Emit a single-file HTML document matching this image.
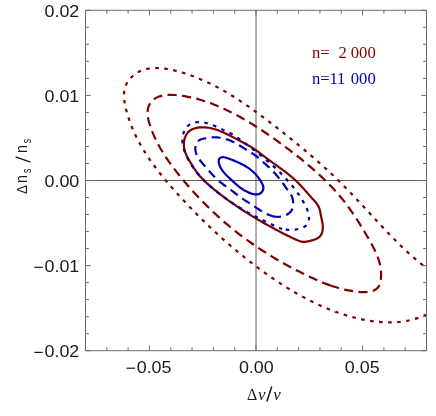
<!DOCTYPE html>
<html><head><meta charset="utf-8"><title>plot</title>
<style>html,body{margin:0;padding:0;background:#fff;}body{width:436px;height:416px;position:relative;overflow:hidden;font-family:"Liberation Sans",sans-serif;}</style></head>
<body>
<svg width="436" height="416" viewBox="0 0 436 416" style="position:absolute;left:0;top:0;will-change:transform">
<rect width="436" height="416" fill="#fff"/>
<line x1="85.5" y1="180.5" x2="426.5" y2="180.5" stroke="#606060" stroke-width="1"/>
<line x1="256.0" y1="10.3" x2="256.0" y2="350.7" stroke="#606060" stroke-width="1"/>
<clipPath id="c"><rect x="85.5" y="10.3" width="341.0" height="340.4"/></clipPath>
<g clip-path="url(#c)" fill="none" stroke-width="2.2" stroke-linejoin="round">
<path d="M428.74,269.81C428.21,269.40 426.61,268.20 425.55,267.39C424.50,266.57 423.45,265.74 422.40,264.91C421.36,264.08 420.32,263.24 419.29,262.39C418.26,261.54 417.24,260.68 416.22,259.82C415.20,258.95 414.19,258.08 413.19,257.20C412.18,256.32 411.19,255.43 410.19,254.54C409.20,253.65 408.21,252.75 407.23,251.85C406.25,250.94 405.27,250.03 404.30,249.11C403.33,248.20 402.36,247.28 401.40,246.35C400.44,245.42 399.48,244.49 398.53,243.56C397.58,242.62 396.63,241.68 395.69,240.74C394.74,239.79 393.81,238.84 392.87,237.89C391.93,236.94 391.00,235.98 390.07,235.02C389.14,234.07 388.22,233.10 387.29,232.14C386.37,231.17 385.45,230.21 384.53,229.24C383.61,228.27 382.70,227.30 381.79,226.32C380.87,225.35 379.96,224.37 379.05,223.40C378.14,222.42 377.23,221.44 376.32,220.46C375.42,219.48 374.51,218.50 373.61,217.52C372.70,216.54 371.80,215.56 370.89,214.57C369.99,213.59 369.08,212.61 368.18,211.63C367.27,210.65 366.37,209.67 365.46,208.68C364.56,207.70 363.65,206.72 362.74,205.74C361.83,204.76 360.93,203.79 360.02,202.81C359.11,201.83 358.19,200.86 357.28,199.88C356.37,198.91 355.45,197.94 354.53,196.97C353.61,196.00 352.69,195.03 351.77,194.07C350.85,193.10 349.92,192.14 348.99,191.18C348.06,190.22 347.13,189.27 346.19,188.32C345.26,187.36 344.32,186.42 343.38,185.47C342.43,184.53 341.48,183.59 340.53,182.65C339.58,181.71 338.63,180.78 337.67,179.85C336.71,178.92 335.75,177.99 334.79,177.07C333.82,176.15 332.85,175.23 331.88,174.31C330.91,173.39 329.93,172.48 328.96,171.57C327.98,170.66 327.00,169.76 326.01,168.86C325.03,167.95 324.04,167.05 323.05,166.16C322.06,165.26 321.07,164.37 320.08,163.48C319.08,162.59 318.08,161.70 317.08,160.82C316.08,159.94 315.08,159.06 314.07,158.18C313.06,157.30 312.05,156.43 311.04,155.55C310.03,154.68 309.02,153.81 308.00,152.95C306.99,152.08 305.97,151.22 304.95,150.36C303.93,149.50 302.90,148.64 301.88,147.79C300.85,146.93 299.82,146.08 298.79,145.23C297.76,144.38 296.73,143.53 295.70,142.69C294.66,141.84 293.63,141.00 292.59,140.16C291.55,139.32 290.51,138.48 289.47,137.65C288.43,136.81 287.39,135.98 286.34,135.15C285.30,134.32 284.25,133.49 283.20,132.66C282.15,131.83 281.10,131.01 280.05,130.19C279.00,129.37 277.94,128.55 276.89,127.73C275.83,126.91 274.78,126.09 273.72,125.28C272.66,124.46 271.60,123.65 270.54,122.84C269.48,122.03 268.42,121.22 267.36,120.41C266.29,119.61 265.23,118.80 264.16,118.00C263.09,117.20 262.02,116.40 260.95,115.60C259.88,114.80 258.81,114.01 257.73,113.22C256.66,112.43 255.58,111.64 254.50,110.86C253.42,110.07 252.33,109.29 251.24,108.52C250.16,107.75 249.07,106.98 247.97,106.21C246.88,105.45 245.78,104.69 244.68,103.93C243.57,103.18 242.47,102.43 241.36,101.69C240.25,100.95 239.13,100.21 238.02,99.48C236.90,98.75 235.77,98.03 234.65,97.32C233.52,96.60 232.39,95.89 231.25,95.20C230.11,94.50 228.97,93.80 227.82,93.12C226.68,92.44 225.52,91.76 224.37,91.10C223.21,90.43 222.04,89.78 220.88,89.13C219.71,88.49 218.53,87.85 217.36,87.22C216.18,86.60 214.99,85.98 213.80,85.37C212.61,84.77 211.42,84.17 210.22,83.59C209.02,83.01 207.81,82.43 206.60,81.87C205.38,81.31 204.17,80.77 202.94,80.23C201.72,79.69 200.49,79.17 199.26,78.66C198.03,78.15 196.79,77.65 195.54,77.16C194.30,76.68 193.05,76.21 191.80,75.75C190.54,75.29 189.28,74.85 188.02,74.42C186.76,73.99 185.49,73.57 184.21,73.17C182.94,72.76 181.66,72.37 180.38,72.00C179.10,71.63 177.81,71.27 176.52,70.94C175.23,70.60 173.93,70.28 172.63,69.99C171.33,69.70 170.02,69.43 168.70,69.20C167.39,68.96 166.07,68.75 164.75,68.58C163.42,68.40 162.09,68.26 160.76,68.16C159.43,68.07 158.10,68.01 156.76,68.00C155.43,68.00 154.09,68.03 152.76,68.13C151.43,68.23 150.10,68.39 148.78,68.61C147.47,68.84 146.16,69.12 144.88,69.48C143.60,69.85 142.32,70.28 141.09,70.79C139.87,71.31 138.66,71.90 137.50,72.56C136.35,73.23 135.23,73.97 134.17,74.78C133.11,75.59 132.10,76.47 131.16,77.42C130.23,78.37 129.34,79.39 128.57,80.46C127.79,81.54 127.08,82.70 126.50,83.89C125.91,85.08 125.42,86.34 125.05,87.62C124.67,88.89 124.40,90.21 124.22,91.53C124.05,92.85 123.99,94.19 123.98,95.53C123.98,96.86 124.08,98.20 124.21,99.52C124.34,100.85 124.55,102.17 124.78,103.49C125.01,104.80 125.30,106.11 125.59,107.41C125.89,108.71 126.23,110.00 126.57,111.29C126.92,112.58 127.28,113.87 127.67,115.14C128.06,116.42 128.46,117.70 128.88,118.96C129.31,120.23 129.75,121.49 130.21,122.74C130.67,123.99 131.15,125.24 131.65,126.48C132.14,127.72 132.66,128.95 133.19,130.18C133.72,131.40 134.27,132.62 134.83,133.83C135.39,135.04 135.97,136.24 136.57,137.44C137.16,138.63 137.77,139.82 138.40,141.00C139.02,142.18 139.66,143.35 140.31,144.52C140.97,145.68 141.63,146.84 142.31,147.99C142.99,149.14 143.68,150.28 144.39,151.42C145.09,152.55 145.81,153.68 146.53,154.80C147.26,155.92 148.00,157.03 148.75,158.13C149.50,159.24 150.26,160.34 151.02,161.43C151.79,162.52 152.57,163.61 153.36,164.69C154.15,165.76 154.94,166.84 155.75,167.90C156.55,168.97 157.36,170.03 158.18,171.08C159.00,172.13 159.83,173.18 160.66,174.22C161.50,175.27 162.34,176.30 163.19,177.34C164.03,178.37 164.89,179.39 165.75,180.42C166.61,181.44 167.47,182.46 168.34,183.47C169.21,184.48 170.08,185.49 170.96,186.50C171.84,187.50 172.72,188.50 173.61,189.50C174.50,190.50 175.39,191.49 176.28,192.48C177.18,193.48 178.08,194.46 178.98,195.45C179.88,196.44 180.78,197.42 181.68,198.40C182.59,199.38 183.50,200.36 184.41,201.33C185.32,202.31 186.24,203.28 187.16,204.25C188.07,205.22 189.00,206.19 189.92,207.15C190.84,208.11 191.77,209.08 192.70,210.03C193.63,210.99 194.56,211.95 195.50,212.90C196.44,213.85 197.38,214.80 198.32,215.74C199.26,216.69 200.21,217.63 201.16,218.57C202.10,219.51 203.06,220.45 204.01,221.38C204.97,222.31 205.92,223.24 206.89,224.17C207.85,225.10 208.81,226.02 209.78,226.94C210.75,227.86 211.72,228.78 212.69,229.69C213.67,230.60 214.64,231.51 215.62,232.42C216.60,233.32 217.59,234.23 218.57,235.13C219.56,236.03 220.55,236.92 221.54,237.81C222.54,238.71 223.53,239.59 224.53,240.48C225.53,241.36 226.54,242.25 227.54,243.12C228.55,244.00 229.56,244.88 230.57,245.75C231.58,246.62 232.60,247.48 233.62,248.34C234.64,249.21 235.66,250.07 236.69,250.92C237.71,251.78 238.74,252.63 239.77,253.47C240.80,254.32 241.84,255.16 242.88,256.00C243.92,256.84 244.96,257.68 246.00,258.51C247.05,259.34 248.10,260.17 249.15,260.99C250.20,261.81 251.25,262.63 252.31,263.45C253.37,264.26 254.43,265.07 255.49,265.88C256.56,266.68 257.63,267.49 258.70,268.28C259.77,269.08 260.84,269.87 261.92,270.66C263.00,271.45 264.08,272.24 265.16,273.02C266.24,273.80 267.33,274.57 268.42,275.34C269.51,276.11 270.61,276.87 271.71,277.63C272.80,278.39 273.91,279.15 275.01,279.89C276.12,280.64 277.23,281.39 278.34,282.12C279.45,282.86 280.57,283.59 281.69,284.31C282.81,285.04 283.94,285.76 285.07,286.47C286.20,287.18 287.33,287.89 288.47,288.58C289.61,289.28 290.75,289.97 291.90,290.66C293.04,291.34 294.19,292.02 295.35,292.69C296.50,293.36 297.66,294.02 298.83,294.68C299.99,295.33 301.16,295.98 302.33,296.61C303.51,297.25 304.68,297.88 305.86,298.50C307.05,299.13 308.23,299.74 309.42,300.34C310.61,300.95 311.81,301.54 313.01,302.13C314.21,302.71 315.41,303.29 316.62,303.86C317.83,304.42 319.04,304.98 320.26,305.53C321.48,306.07 322.70,306.61 323.93,307.14C325.16,307.66 326.39,308.18 327.62,308.68C328.86,309.19 330.10,309.68 331.35,310.16C332.59,310.65 333.84,311.12 335.09,311.58C336.35,312.04 337.60,312.49 338.87,312.92C340.13,313.36 341.39,313.78 342.67,314.19C343.94,314.60 345.21,315.00 346.49,315.39C347.77,315.77 349.05,316.15 350.33,316.51C351.62,316.87 352.91,317.21 354.20,317.55C355.49,317.88 356.79,318.20 358.09,318.50C359.39,318.81 360.69,319.10 362.00,319.37C363.31,319.65 364.62,319.91 365.93,320.15C367.24,320.39 368.56,320.61 369.88,320.82C371.20,321.03 372.52,321.22 373.84,321.38C375.17,321.55 376.50,321.70 377.82,321.83C379.15,321.96 380.48,322.06 381.82,322.15C383.15,322.23 384.48,322.30 385.82,322.34C387.15,322.38 388.49,322.39 389.82,322.38C391.16,322.37 392.49,322.34 393.83,322.28C395.16,322.22 396.49,322.13 397.82,322.02C399.15,321.90 400.48,321.76 401.81,321.59C403.13,321.42 404.45,321.22 405.77,320.99C407.08,320.77 408.39,320.51 409.70,320.22C411.00,319.93 412.30,319.61 413.59,319.27C414.87,318.92 416.16,318.54 417.43,318.13C418.70,317.72 419.96,317.28 421.21,316.81C422.45,316.33 423.69,315.83 424.92,315.30C426.14,314.77 427.95,313.90 428.55,313.62" stroke="#800000" stroke-dasharray="3.6 5.462" stroke-dashoffset="1.93"/>
<path d="M330.61,285.50C331.88,285.94 333.15,286.37 334.43,286.78C335.71,287.19 336.99,287.58 338.28,287.95C339.57,288.31 340.87,288.66 342.17,288.99C343.47,289.32 344.77,289.62 346.09,289.90C347.40,290.18 348.71,290.44 350.04,290.67C351.36,290.90 352.68,291.11 354.01,291.29C355.34,291.47 356.67,291.63 358.01,291.76C359.34,291.88 360.68,292.00 362.02,292.05C363.36,292.10 364.71,292.14 366.04,292.08C367.38,292.02 368.74,291.93 370.04,291.67C371.35,291.41 372.70,291.10 373.90,290.54C375.10,289.99 376.31,289.26 377.24,288.34C378.17,287.42 378.93,286.22 379.48,285.03C380.04,283.83 380.31,282.47 380.57,281.16C380.83,279.85 380.93,278.50 381.02,277.17C381.10,275.83 381.11,274.48 381.07,273.14C381.02,271.80 380.92,270.46 380.76,269.13C380.60,267.80 380.38,266.47 380.10,265.16C379.83,263.85 379.50,262.55 379.13,261.26C378.76,259.97 378.33,258.70 377.87,257.44C377.42,256.18 376.91,254.93 376.38,253.70C375.86,252.47 375.29,251.25 374.70,250.04C374.12,248.84 373.50,247.64 372.88,246.46C372.25,245.27 371.61,244.09 370.95,242.92C370.30,241.75 369.63,240.59 368.96,239.42C368.30,238.26 367.62,237.10 366.95,235.94C366.27,234.78 365.59,233.63 364.91,232.47C364.23,231.32 363.54,230.17 362.85,229.02C362.15,227.87 361.46,226.72 360.75,225.58C360.05,224.44 359.34,223.30 358.62,222.16C357.91,221.03 357.19,219.90 356.46,218.77C355.73,217.65 354.99,216.53 354.24,215.41C353.50,214.30 352.75,213.19 351.98,212.08C351.22,210.98 350.45,209.88 349.67,208.79C348.89,207.70 348.10,206.62 347.30,205.54C346.49,204.46 345.68,203.40 344.86,202.34C344.04,201.28 343.20,200.23 342.36,199.18C341.51,198.14 340.66,197.11 339.79,196.08C338.93,195.06 338.05,194.04 337.17,193.03C336.29,192.02 335.39,191.02 334.49,190.03C333.59,189.04 332.67,188.05 331.75,187.08C330.83,186.10 329.91,185.13 328.97,184.17C328.03,183.21 327.09,182.26 326.14,181.32C325.19,180.37 324.23,179.43 323.26,178.50C322.29,177.57 321.32,176.65 320.34,175.73C319.36,174.81 318.38,173.91 317.38,173.00C316.39,172.10 315.39,171.20 314.39,170.31C313.39,169.42 312.38,168.54 311.36,167.66C310.35,166.78 309.33,165.91 308.30,165.05C307.28,164.18 306.25,163.32 305.22,162.46C304.18,161.61 303.15,160.76 302.10,159.91C301.06,159.07 300.02,158.23 298.97,157.39C297.92,156.56 296.86,155.73 295.81,154.90C294.75,154.07 293.69,153.25 292.63,152.43C291.57,151.61 290.50,150.80 289.43,149.99C288.36,149.18 287.29,148.37 286.22,147.57C285.15,146.76 284.07,145.96 282.99,145.16C281.91,144.36 280.83,143.57 279.75,142.78C278.67,141.99 277.58,141.20 276.49,140.42C275.40,139.63 274.31,138.85 273.22,138.08C272.12,137.30 271.02,136.53 269.92,135.77C268.82,135.00 267.72,134.24 266.61,133.48C265.50,132.73 264.39,131.98 263.27,131.23C262.16,130.49 261.04,129.75 259.91,129.01C258.79,128.28 257.66,127.55 256.53,126.83C255.40,126.11 254.26,125.40 253.12,124.69C251.98,123.98 250.84,123.28 249.69,122.59C248.54,121.90 247.39,121.21 246.23,120.53C245.08,119.85 243.91,119.18 242.75,118.52C241.58,117.86 240.41,117.21 239.23,116.56C238.06,115.92 236.87,115.28 235.69,114.66C234.50,114.03 233.31,113.41 232.12,112.80C230.92,112.20 229.72,111.60 228.51,111.01C227.31,110.42 226.10,109.85 224.88,109.28C223.66,108.71 222.44,108.16 221.22,107.62C219.99,107.07 218.76,106.54 217.52,106.02C216.29,105.50 215.05,104.99 213.80,104.49C212.55,104.00 211.30,103.51 210.04,103.05C208.78,102.58 207.52,102.13 206.25,101.69C204.98,101.26 203.71,100.84 202.43,100.44C201.15,100.04 199.86,99.65 198.57,99.29C197.28,98.92 195.99,98.57 194.69,98.25C193.38,97.92 192.08,97.62 190.77,97.33C189.46,97.05 188.14,96.79 186.82,96.55C185.50,96.31 184.18,96.09 182.85,95.90C181.52,95.70 180.19,95.53 178.86,95.39C177.52,95.24 176.19,95.11 174.85,95.02C173.51,94.93 172.17,94.86 170.83,94.85C169.49,94.83 168.14,94.85 166.81,94.96C165.47,95.06 164.13,95.21 162.82,95.47C161.51,95.74 160.19,96.07 158.95,96.54C157.70,97.02 156.46,97.60 155.34,98.32C154.22,99.04 153.16,99.90 152.23,100.85C151.30,101.81 150.45,102.89 149.78,104.04C149.11,105.18 148.56,106.45 148.19,107.72C147.83,109.00 147.65,110.36 147.57,111.69C147.49,113.02 147.58,114.38 147.72,115.71C147.85,117.04 148.11,118.36 148.39,119.67C148.67,120.98 149.03,122.28 149.41,123.56C149.79,124.85 150.21,126.13 150.65,127.39C151.09,128.66 151.55,129.92 152.04,131.17C152.53,132.42 153.05,133.66 153.58,134.89C154.12,136.12 154.68,137.34 155.25,138.55C155.83,139.76 156.43,140.96 157.05,142.15C157.66,143.34 158.30,144.52 158.95,145.70C159.60,146.87 160.26,148.04 160.94,149.19C161.62,150.35 162.31,151.50 163.02,152.64C163.72,153.78 164.44,154.91 165.17,156.04C165.90,157.16 166.64,158.28 167.40,159.39C168.15,160.50 168.92,161.60 169.69,162.70C170.46,163.79 171.25,164.88 172.04,165.96C172.84,167.04 173.64,168.12 174.45,169.18C175.27,170.25 176.09,171.31 176.91,172.37C177.74,173.43 178.58,174.48 179.42,175.52C180.26,176.56 181.11,177.60 181.96,178.64C182.82,179.67 183.68,180.70 184.54,181.73C185.41,182.75 186.28,183.77 187.16,184.79C188.03,185.80 188.92,186.81 189.80,187.82C190.69,188.82 191.58,189.82 192.48,190.82C193.38,191.82 194.29,192.81 195.19,193.79C196.10,194.78 197.02,195.76 197.94,196.74C198.86,197.71 199.78,198.68 200.71,199.65C201.65,200.62 202.58,201.58 203.52,202.53C204.46,203.49 205.41,204.44 206.36,205.38C207.31,206.33 208.27,207.27 209.23,208.20C210.20,209.14 211.16,210.07 212.14,210.99C213.11,211.91 214.09,212.83 215.07,213.74C216.05,214.66 217.04,215.56 218.04,216.47C219.03,217.37 220.03,218.26 221.03,219.15C222.04,220.04 223.05,220.93 224.06,221.80C225.07,222.68 226.09,223.55 227.12,224.42C228.14,225.29 229.17,226.15 230.21,227.00C231.24,227.86 232.28,228.70 233.32,229.55C234.37,230.39 235.42,231.22 236.47,232.05C237.52,232.88 238.58,233.71 239.65,234.52C240.71,235.34 241.78,236.15 242.85,236.96C243.93,237.76 245.01,238.56 246.09,239.35C247.17,240.14 248.26,240.93 249.35,241.71C250.44,242.48 251.54,243.26 252.64,244.02C253.74,244.79 254.85,245.55 255.96,246.30C257.07,247.06 258.18,247.80 259.30,248.54C260.42,249.28 261.54,250.02 262.67,250.75C263.79,251.48 264.92,252.20 266.06,252.91C267.19,253.63 268.33,254.34 269.47,255.05C270.61,255.75 271.76,256.45 272.91,257.14C274.06,257.83 275.21,258.52 276.37,259.20C277.52,259.88 278.68,260.55 279.85,261.22C281.01,261.88 282.18,262.55 283.35,263.20C284.52,263.86 285.69,264.51 286.87,265.15C288.05,265.80 289.23,266.43 290.41,267.07C291.59,267.70 292.78,268.33 293.97,268.95C295.16,269.57 296.35,270.18 297.54,270.79C298.74,271.40 299.94,272.01 301.14,272.60C302.34,273.20 303.54,273.79 304.75,274.38C305.95,274.97 307.16,275.55 308.37,276.12C309.59,276.70 310.80,277.27 312.02,277.83C313.24,278.39 314.46,278.95 315.68,279.50C316.91,280.04 318.14,280.58 319.37,281.11C320.60,281.63 321.84,282.15 323.09,282.65C324.33,283.16 325.58,283.65 326.83,284.12C328.09,284.60 329.35,285.06 330.61,285.50Z" stroke="#800000" stroke-dasharray="9.16 5.368" stroke-dashoffset="0.47"/>
<path d="M202.55,127.29C203.05,127.29 203.55,127.30 204.05,127.32C204.55,127.34 205.05,127.37 205.55,127.41C206.05,127.45 206.55,127.50 207.05,127.56C207.55,127.61 208.05,127.68 208.54,127.76C209.04,127.84 209.53,127.93 210.03,128.02C210.52,128.12 211.01,128.22 211.50,128.33C211.99,128.44 212.47,128.56 212.96,128.69C213.44,128.82 213.93,128.95 214.41,129.09C214.89,129.24 215.37,129.38 215.85,129.54C216.32,129.69 216.80,129.85 217.27,130.02C217.75,130.19 218.22,130.36 218.69,130.54C219.16,130.71 219.62,130.90 220.09,131.08C220.55,131.27 221.02,131.46 221.48,131.66C221.94,131.85 222.40,132.05 222.86,132.26C223.32,132.46 223.78,132.67 224.23,132.88C224.69,133.09 225.14,133.30 225.60,133.51C226.05,133.73 226.50,133.95 226.95,134.17C227.40,134.39 227.85,134.61 228.30,134.83C228.75,135.06 229.20,135.28 229.65,135.51C230.09,135.74 230.54,135.97 230.99,136.19C231.43,136.42 231.88,136.65 232.33,136.88C232.77,137.11 233.22,137.34 233.66,137.57C234.11,137.80 234.55,138.03 235.00,138.26C235.45,138.49 235.89,138.72 236.34,138.95C236.78,139.18 237.23,139.41 237.67,139.65C238.12,139.88 238.56,140.11 239.01,140.34C239.45,140.57 239.90,140.80 240.34,141.04C240.79,141.27 241.23,141.51 241.67,141.74C242.12,141.98 242.56,142.21 243.00,142.45C243.44,142.69 243.88,142.93 244.32,143.17C244.76,143.41 245.20,143.65 245.64,143.90C246.08,144.14 246.52,144.38 246.95,144.63C247.39,144.88 247.83,145.13 248.26,145.38C248.69,145.63 249.13,145.89 249.56,146.14C249.99,146.40 250.42,146.66 250.85,146.92C251.27,147.18 251.70,147.45 252.13,147.71C252.55,147.98 252.97,148.25 253.40,148.52C253.82,148.79 254.24,149.07 254.65,149.35C255.07,149.63 255.49,149.91 255.90,150.19C256.31,150.48 256.72,150.77 257.13,151.06C257.54,151.35 257.94,151.65 258.35,151.94C258.75,152.24 259.15,152.54 259.56,152.84C259.96,153.14 260.36,153.45 260.75,153.75C261.15,154.05 261.55,154.36 261.95,154.67C262.35,154.97 262.74,155.28 263.14,155.59C263.54,155.89 263.93,156.20 264.33,156.51C264.73,156.81 265.13,157.12 265.52,157.42C265.92,157.73 266.32,158.03 266.72,158.33C267.12,158.64 267.53,158.94 267.93,159.24C268.33,159.54 268.73,159.83 269.14,160.13C269.54,160.43 269.95,160.72 270.35,161.02C270.76,161.31 271.17,161.61 271.57,161.90C271.98,162.19 272.39,162.49 272.80,162.78C273.20,163.07 273.61,163.36 274.02,163.65C274.43,163.95 274.84,164.24 275.25,164.53C275.65,164.82 276.06,165.11 276.47,165.40C276.88,165.69 277.29,165.98 277.70,166.27C278.11,166.56 278.52,166.86 278.92,167.15C279.33,167.44 279.74,167.73 280.15,168.03C280.55,168.32 280.96,168.61 281.37,168.91C281.77,169.20 282.18,169.50 282.58,169.79C282.99,170.09 283.39,170.39 283.79,170.69C284.20,170.99 284.60,171.29 285.00,171.59C285.40,171.89 285.80,172.19 286.20,172.50C286.60,172.80 286.99,173.11 287.39,173.42C287.79,173.73 288.18,174.04 288.57,174.35C288.97,174.66 289.36,174.97 289.75,175.29C290.13,175.61 290.52,175.93 290.91,176.25C291.29,176.57 291.68,176.89 292.06,177.22C292.44,177.54 292.82,177.87 293.20,178.20C293.57,178.53 293.95,178.87 294.32,179.21C294.69,179.54 295.06,179.88 295.43,180.23C295.79,180.57 296.16,180.91 296.52,181.26C296.88,181.61 297.24,181.96 297.59,182.32C297.95,182.67 298.30,183.03 298.65,183.38C299.00,183.74 299.35,184.10 299.70,184.46C300.05,184.83 300.39,185.19 300.74,185.56C301.08,185.92 301.42,186.29 301.76,186.66C302.10,187.03 302.44,187.40 302.78,187.77C303.12,188.14 303.45,188.51 303.79,188.88C304.12,189.26 304.46,189.63 304.79,190.00C305.13,190.38 305.46,190.75 305.79,191.13C306.12,191.51 306.46,191.88 306.79,192.26C307.12,192.63 307.45,193.01 307.78,193.39C308.12,193.76 308.45,194.14 308.78,194.51C309.11,194.89 309.44,195.27 309.78,195.64C310.11,196.02 310.44,196.39 310.78,196.77C311.11,197.14 311.45,197.51 311.78,197.89C312.12,198.26 312.46,198.63 312.79,199.00C313.13,199.37 313.47,199.75 313.80,200.12C314.13,200.50 314.46,200.87 314.79,201.26C315.11,201.64 315.44,202.02 315.75,202.41C316.06,202.81 316.37,203.20 316.66,203.61C316.96,204.01 317.25,204.43 317.52,204.85C317.79,205.27 318.05,205.70 318.29,206.14C318.53,206.58 318.76,207.03 318.96,207.49C319.16,207.95 319.34,208.42 319.50,208.89C319.66,209.37 319.79,209.85 319.92,210.34C320.04,210.82 320.14,211.32 320.24,211.81C320.34,212.30 320.43,212.79 320.52,213.29C320.61,213.78 320.69,214.28 320.78,214.77C320.87,215.26 320.96,215.76 321.06,216.25C321.16,216.74 321.26,217.23 321.36,217.72C321.47,218.21 321.58,218.70 321.68,219.19C321.79,219.68 321.90,220.17 322.00,220.66C322.10,221.16 322.20,221.65 322.29,222.14C322.37,222.63 322.46,223.13 322.53,223.63C322.60,224.12 322.67,224.62 322.72,225.12C322.77,225.62 322.80,226.12 322.82,226.62C322.84,227.12 322.84,227.62 322.82,228.13C322.80,228.63 322.77,229.13 322.70,229.63C322.64,230.12 322.56,230.62 322.45,231.11C322.34,231.60 322.21,232.08 322.05,232.56C321.89,233.03 321.70,233.50 321.49,233.96C321.28,234.41 321.03,234.85 320.76,235.27C320.49,235.69 320.18,236.09 319.85,236.46C319.51,236.83 319.14,237.18 318.75,237.49C318.35,237.80 317.92,238.07 317.49,238.31C317.05,238.56 316.59,238.77 316.13,238.97C315.67,239.17 315.20,239.34 314.73,239.50C314.26,239.67 313.78,239.82 313.30,239.96C312.82,240.11 312.33,240.25 311.85,240.38C311.36,240.51 310.88,240.63 310.39,240.75C309.90,240.87 309.41,240.98 308.92,241.08C308.43,241.19 307.94,241.30 307.45,241.39C306.96,241.49 306.46,241.59 305.97,241.67C305.47,241.74 304.97,241.81 304.47,241.84C303.98,241.87 303.47,241.87 302.97,241.84C302.47,241.80 301.97,241.73 301.48,241.63C300.99,241.54 300.50,241.41 300.02,241.27C299.54,241.13 299.07,240.96 298.60,240.78C298.13,240.61 297.66,240.41 297.20,240.22C296.74,240.02 296.29,239.81 295.83,239.60C295.37,239.39 294.92,239.17 294.47,238.96C294.01,238.75 293.56,238.53 293.11,238.32C292.65,238.10 292.20,237.88 291.75,237.67C291.30,237.45 290.85,237.23 290.39,237.01C289.94,236.79 289.49,236.57 289.04,236.35C288.59,236.13 288.14,235.91 287.69,235.68C287.24,235.46 286.79,235.24 286.34,235.01C285.90,234.79 285.45,234.56 285.00,234.34C284.55,234.11 284.10,233.89 283.66,233.66C283.21,233.43 282.76,233.20 282.32,232.97C281.87,232.74 281.42,232.51 280.98,232.28C280.53,232.05 280.09,231.82 279.64,231.59C279.20,231.36 278.75,231.12 278.31,230.89C277.87,230.66 277.42,230.42 276.98,230.19C276.54,229.95 276.09,229.72 275.65,229.48C275.21,229.24 274.77,229.01 274.33,228.77C273.88,228.53 273.44,228.29 273.00,228.05C272.56,227.81 272.12,227.57 271.68,227.33C271.24,227.09 270.80,226.85 270.36,226.61C269.92,226.37 269.48,226.13 269.04,225.88C268.60,225.64 268.16,225.40 267.73,225.15C267.29,224.91 266.85,224.66 266.41,224.42C265.98,224.17 265.54,223.92 265.10,223.68C264.66,223.43 264.23,223.18 263.79,222.94C263.36,222.69 262.92,222.44 262.48,222.19C262.05,221.94 261.61,221.69 261.18,221.44C260.75,221.19 260.31,220.94 259.88,220.69C259.44,220.43 259.01,220.18 258.58,219.93C258.14,219.67 257.71,219.42 257.28,219.16C256.85,218.91 256.42,218.65 255.98,218.40C255.55,218.14 255.12,217.88 254.69,217.63C254.26,217.37 253.83,217.11 253.40,216.85C252.97,216.59 252.54,216.33 252.11,216.07C251.69,215.81 251.26,215.55 250.83,215.29C250.40,215.02 249.98,214.76 249.55,214.50C249.12,214.23 248.70,213.97 248.27,213.70C247.84,213.44 247.42,213.17 246.99,212.90C246.57,212.64 246.15,212.37 245.72,212.10C245.30,211.83 244.88,211.56 244.45,211.29C244.03,211.02 243.61,210.75 243.19,210.48C242.76,210.21 242.34,209.93 241.92,209.66C241.50,209.39 241.08,209.11 240.66,208.84C240.24,208.56 239.82,208.29 239.41,208.01C238.99,207.73 238.57,207.45 238.15,207.17C237.74,206.90 237.32,206.62 236.90,206.34C236.49,206.05 236.07,205.77 235.66,205.49C235.24,205.21 234.83,204.92 234.42,204.64C234.00,204.36 233.59,204.07 233.18,203.79C232.77,203.50 232.35,203.21 231.94,202.92C231.53,202.64 231.12,202.35 230.71,202.06C230.30,201.77 229.89,201.48 229.49,201.18C229.08,200.89 228.67,200.60 228.26,200.31C227.86,200.01 227.45,199.72 227.05,199.42C226.64,199.13 226.24,198.83 225.83,198.53C225.43,198.24 225.02,197.94 224.62,197.64C224.22,197.34 223.82,197.04 223.42,196.74C223.02,196.43 222.62,196.13 222.22,195.83C221.82,195.53 221.42,195.22 221.02,194.92C220.62,194.61 220.23,194.30 219.83,194.00C219.43,193.69 219.04,193.38 218.64,193.07C218.25,192.76 217.85,192.45 217.46,192.14C217.07,191.83 216.67,191.51 216.28,191.20C215.89,190.89 215.50,190.57 215.11,190.26C214.72,189.94 214.33,189.62 213.94,189.30C213.56,188.99 213.17,188.67 212.78,188.35C212.40,188.03 212.01,187.71 211.63,187.38C211.24,187.06 210.86,186.74 210.48,186.41C210.09,186.09 209.71,185.76 209.33,185.43C208.96,185.10 208.58,184.77 208.20,184.44C207.83,184.11 207.45,183.77 207.08,183.44C206.71,183.10 206.34,182.76 205.97,182.42C205.60,182.08 205.24,181.73 204.88,181.39C204.52,181.04 204.16,180.69 203.80,180.34C203.44,179.98 203.09,179.63 202.74,179.27C202.39,178.91 202.04,178.55 201.70,178.18C201.36,177.81 201.02,177.45 200.68,177.07C200.35,176.70 200.01,176.32 199.69,175.94C199.36,175.56 199.04,175.18 198.72,174.79C198.40,174.40 198.09,174.01 197.78,173.61C197.47,173.22 197.17,172.82 196.87,172.41C196.58,172.01 196.29,171.60 196.00,171.19C195.71,170.77 195.43,170.36 195.16,169.94C194.88,169.52 194.61,169.10 194.34,168.68C194.06,168.26 193.80,167.83 193.53,167.41C193.26,166.98 192.99,166.56 192.73,166.13C192.46,165.71 192.19,165.29 191.92,164.86C191.66,164.44 191.39,164.01 191.12,163.59C190.85,163.16 190.59,162.74 190.32,162.31C190.06,161.89 189.80,161.46 189.54,161.03C189.28,160.60 189.02,160.17 188.77,159.73C188.52,159.30 188.27,158.86 188.03,158.42C187.79,157.98 187.55,157.54 187.32,157.09C187.09,156.65 186.87,156.20 186.66,155.74C186.44,155.29 186.24,154.83 186.04,154.37C185.85,153.91 185.66,153.44 185.49,152.97C185.31,152.50 185.15,152.03 185.00,151.55C184.85,151.07 184.71,150.59 184.59,150.10C184.47,149.61 184.36,149.12 184.26,148.63C184.17,148.14 184.09,147.64 184.03,147.14C183.97,146.65 183.92,146.15 183.89,145.65C183.86,145.15 183.85,144.64 183.86,144.14C183.86,143.64 183.88,143.14 183.93,142.64C183.97,142.14 184.03,141.64 184.10,141.14C184.18,140.65 184.28,140.16 184.39,139.67C184.51,139.18 184.64,138.69 184.79,138.22C184.94,137.74 185.11,137.26 185.29,136.80C185.48,136.33 185.69,135.87 185.92,135.43C186.14,134.98 186.39,134.54 186.66,134.12C186.93,133.70 187.22,133.29 187.54,132.90C187.86,132.51 188.20,132.14 188.56,131.79C188.92,131.45 189.31,131.12 189.71,130.82C190.10,130.52 190.52,130.24 190.95,129.98C191.38,129.72 191.83,129.49 192.28,129.28C192.74,129.06 193.20,128.87 193.67,128.70C194.14,128.53 194.62,128.37 195.10,128.24C195.59,128.10 196.08,127.98 196.57,127.88C197.06,127.77 197.55,127.69 198.05,127.61C198.54,127.54 199.04,127.48 199.54,127.43C200.04,127.38 200.54,127.35 201.04,127.33C201.54,127.30 202.05,127.29 202.55,127.29Z" stroke="#800000"/>
<path d="M282.17,228.91C281.68,228.78 281.20,228.65 280.72,228.50C280.24,228.35 279.76,228.19 279.29,228.02C278.82,227.85 278.36,227.66 277.89,227.47C277.43,227.28 276.97,227.07 276.52,226.86C276.06,226.65 275.61,226.43 275.16,226.20C274.71,225.98 274.27,225.75 273.82,225.52C273.37,225.30 272.93,225.06 272.48,224.83C272.04,224.60 271.59,224.37 271.14,224.15C270.69,223.92 270.24,223.70 269.79,223.48C269.34,223.26 268.89,223.04 268.44,222.82C267.99,222.61 267.53,222.39 267.08,222.18C266.63,221.96 266.17,221.75 265.72,221.53C265.27,221.32 264.81,221.11 264.36,220.89C263.90,220.68 263.45,220.46 263.00,220.25C262.55,220.03 262.09,219.81 261.64,219.59C261.19,219.37 260.74,219.15 260.29,218.93C259.84,218.71 259.39,218.49 258.94,218.26C258.49,218.04 258.05,217.81 257.60,217.59C257.15,217.36 256.70,217.13 256.26,216.90C255.81,216.67 255.37,216.44 254.92,216.21C254.48,215.98 254.03,215.75 253.59,215.51C253.14,215.28 252.70,215.04 252.26,214.80C251.82,214.57 251.38,214.33 250.93,214.09C250.49,213.85 250.05,213.61 249.61,213.37C249.17,213.13 248.74,212.88 248.30,212.64C247.86,212.39 247.42,212.15 246.99,211.90C246.55,211.65 246.11,211.40 245.68,211.15C245.24,210.90 244.81,210.65 244.38,210.40C243.94,210.15 243.51,209.89 243.08,209.64C242.65,209.38 242.21,209.13 241.78,208.87C241.35,208.61 240.92,208.35 240.49,208.09C240.07,207.83 239.64,207.57 239.21,207.31C238.78,207.05 238.36,206.78 237.93,206.52C237.51,206.25 237.08,205.98 236.66,205.72C236.23,205.45 235.81,205.18 235.39,204.91C234.96,204.64 234.54,204.36 234.12,204.09C233.70,203.82 233.28,203.54 232.86,203.27C232.44,202.99 232.03,202.71 231.61,202.44C231.19,202.16 230.77,201.88 230.36,201.60C229.94,201.31 229.53,201.03 229.12,200.75C228.70,200.46 228.29,200.18 227.88,199.89C227.47,199.61 227.05,199.32 226.64,199.03C226.23,198.74 225.82,198.45 225.42,198.16C225.01,197.87 224.60,197.57 224.19,197.28C223.79,196.99 223.38,196.69 222.98,196.39C222.57,196.10 222.17,195.80 221.77,195.50C221.37,195.20 220.96,194.90 220.56,194.60C220.16,194.29 219.76,193.99 219.36,193.69C218.97,193.38 218.57,193.08 218.17,192.77C217.78,192.46 217.38,192.15 216.99,191.84C216.59,191.53 216.20,191.22 215.81,190.90C215.42,190.59 215.03,190.28 214.64,189.96C214.25,189.64 213.86,189.32 213.48,189.00C213.09,188.68 212.71,188.36 212.32,188.03C211.94,187.71 211.56,187.38 211.18,187.06C210.80,186.73 210.42,186.40 210.05,186.07C209.67,185.73 209.29,185.40 208.92,185.06C208.55,184.73 208.18,184.39 207.81,184.05C207.44,183.71 207.07,183.37 206.71,183.02C206.34,182.68 205.98,182.33 205.62,181.99C205.26,181.64 204.90,181.29 204.54,180.93C204.19,180.58 203.83,180.22 203.48,179.87C203.13,179.51 202.78,179.15 202.43,178.79C202.09,178.42 201.74,178.06 201.40,177.69C201.06,177.32 200.72,176.96 200.38,176.58C200.05,176.21 199.71,175.84 199.38,175.46C199.05,175.08 198.72,174.70 198.40,174.32C198.07,173.94 197.75,173.55 197.43,173.17C197.11,172.78 196.80,172.39 196.48,172.00C196.17,171.61 195.86,171.21 195.56,170.81C195.25,170.42 194.95,170.02 194.65,169.61C194.35,169.21 194.05,168.80 193.76,168.40C193.47,167.99 193.18,167.58 192.90,167.16C192.61,166.75 192.33,166.34 192.05,165.92C191.78,165.50 191.50,165.08 191.23,164.66C190.96,164.23 190.70,163.81 190.44,163.38C190.18,162.95 189.92,162.52 189.67,162.08C189.42,161.65 189.17,161.21 188.92,160.78C188.68,160.34 188.44,159.90 188.21,159.45C187.97,159.01 187.74,158.56 187.51,158.12C187.29,157.67 187.07,157.22 186.85,156.77C186.63,156.31 186.42,155.86 186.22,155.40C186.01,154.94 185.81,154.48 185.61,154.02C185.42,153.56 185.23,153.10 185.04,152.63C184.86,152.16 184.69,151.69 184.52,151.22C184.35,150.75 184.19,150.27 184.03,149.79C183.88,149.32 183.73,148.84 183.60,148.35C183.46,147.87 183.34,147.38 183.22,146.90C183.10,146.41 183.00,145.92 182.90,145.43C182.81,144.93 182.72,144.44 182.65,143.94C182.58,143.45 182.52,142.95 182.47,142.45C182.43,141.95 182.40,141.45 182.38,140.95C182.36,140.44 182.36,139.94 182.37,139.44C182.38,138.94 182.41,138.44 182.46,137.94C182.50,137.44 182.56,136.94 182.64,136.45C182.72,135.95 182.82,135.46 182.93,134.97C183.04,134.48 183.18,133.99 183.33,133.52C183.47,133.04 183.64,132.56 183.83,132.10C184.01,131.63 184.21,131.17 184.43,130.72C184.65,130.27 184.88,129.82 185.14,129.39C185.39,128.96 185.66,128.53 185.95,128.13C186.24,127.72 186.55,127.32 186.88,126.94C187.20,126.56 187.55,126.20 187.92,125.86C188.29,125.52 188.67,125.19 189.08,124.90C189.49,124.61 189.91,124.34 190.35,124.10C190.79,123.86 191.25,123.64 191.71,123.45C192.18,123.26 192.65,123.10 193.13,122.95C193.61,122.81 194.10,122.69 194.59,122.59C195.08,122.48 195.58,122.40 196.07,122.33C196.57,122.26 197.07,122.21 197.57,122.18C198.07,122.14 198.57,122.12 199.07,122.12C199.58,122.11 200.08,122.12 200.58,122.14C201.08,122.17 201.58,122.21 202.08,122.26C202.58,122.31 203.08,122.37 203.57,122.45C204.07,122.53 204.56,122.62 205.05,122.72C205.54,122.82 206.03,122.93 206.52,123.05C207.01,123.17 207.49,123.31 207.97,123.45C208.45,123.59 208.93,123.74 209.41,123.90C209.88,124.05 210.36,124.22 210.83,124.39C211.30,124.56 211.77,124.74 212.24,124.93C212.70,125.11 213.17,125.30 213.63,125.49C214.09,125.68 214.56,125.88 215.01,126.08C215.47,126.29 215.93,126.49 216.39,126.70C216.85,126.90 217.30,127.11 217.76,127.33C218.21,127.54 218.67,127.75 219.12,127.96C219.57,128.18 220.03,128.39 220.48,128.61C220.94,128.82 221.39,129.03 221.84,129.25C222.30,129.46 222.75,129.67 223.21,129.88C223.66,130.09 224.12,130.30 224.58,130.51C225.03,130.71 225.49,130.92 225.95,131.13C226.40,131.34 226.86,131.55 227.31,131.76C227.77,131.97 228.22,132.19 228.67,132.41C229.12,132.63 229.57,132.85 230.02,133.08C230.46,133.31 230.91,133.55 231.34,133.79C231.78,134.04 232.22,134.29 232.65,134.55C233.08,134.80 233.50,135.07 233.93,135.34C234.35,135.60 234.77,135.88 235.19,136.16C235.61,136.43 236.02,136.72 236.43,137.00C236.85,137.29 237.26,137.58 237.67,137.87C238.08,138.15 238.49,138.45 238.89,138.74C239.30,139.03 239.71,139.33 240.11,139.62C240.52,139.92 240.93,140.21 241.33,140.51C241.74,140.80 242.14,141.10 242.55,141.39C242.95,141.69 243.36,141.98 243.76,142.28C244.16,142.58 244.57,142.88 244.97,143.18C245.38,143.47 245.78,143.77 246.18,144.07C246.58,144.37 246.99,144.67 247.39,144.97C247.79,145.27 248.19,145.57 248.59,145.87C248.99,146.18 249.39,146.48 249.79,146.78C250.19,147.09 250.59,147.39 250.99,147.69C251.39,148.00 251.79,148.30 252.19,148.61C252.58,148.91 252.98,149.22 253.38,149.53C253.77,149.83 254.17,150.14 254.57,150.45C254.96,150.76 255.36,151.07 255.75,151.38C256.15,151.69 256.54,152.00 256.93,152.31C257.33,152.62 257.72,152.93 258.11,153.25C258.50,153.56 258.89,153.87 259.29,154.19C259.68,154.50 260.07,154.82 260.46,155.13C260.85,155.45 261.23,155.77 261.62,156.09C262.01,156.40 262.40,156.72 262.78,157.04C263.17,157.36 263.56,157.68 263.94,158.00C264.33,158.33 264.71,158.65 265.10,158.97C265.48,159.29 265.86,159.62 266.24,159.94C266.63,160.27 267.01,160.59 267.39,160.92C267.77,161.25 268.15,161.58 268.53,161.91C268.91,162.23 269.28,162.56 269.66,162.90C270.04,163.23 270.41,163.56 270.79,163.89C271.16,164.22 271.54,164.56 271.91,164.89C272.29,165.23 272.66,165.56 273.03,165.90C273.40,166.24 273.77,166.58 274.14,166.92C274.51,167.25 274.88,167.59 275.25,167.94C275.62,168.28 275.98,168.62 276.35,168.96C276.71,169.31 277.08,169.65 277.44,170.00C277.80,170.34 278.17,170.69 278.53,171.04C278.89,171.39 279.25,171.74 279.61,172.09C279.96,172.44 280.32,172.79 280.68,173.15C281.03,173.50 281.39,173.86 281.74,174.21C282.09,174.57 282.44,174.93 282.79,175.29C283.14,175.65 283.49,176.01 283.84,176.37C284.19,176.73 284.53,177.09 284.88,177.46C285.22,177.83 285.56,178.19 285.90,178.56C286.24,178.93 286.58,179.30 286.92,179.67C287.26,180.04 287.59,180.41 287.93,180.79C288.26,181.16 288.59,181.54 288.92,181.92C289.25,182.30 289.58,182.67 289.91,183.06C290.23,183.44 290.56,183.82 290.88,184.20C291.20,184.59 291.52,184.98 291.84,185.36C292.16,185.75 292.47,186.14 292.79,186.53C293.10,186.92 293.41,187.32 293.72,187.71C294.03,188.11 294.34,188.50 294.64,188.90C294.95,189.30 295.25,189.70 295.55,190.10C295.85,190.50 296.15,190.91 296.45,191.31C296.74,191.72 297.04,192.13 297.33,192.53C297.62,192.94 297.90,193.35 298.19,193.77C298.48,194.18 298.76,194.59 299.04,195.01C299.32,195.43 299.60,195.84 299.87,196.26C300.15,196.68 300.42,197.10 300.69,197.53C300.96,197.95 301.22,198.38 301.49,198.80C301.75,199.23 302.01,199.66 302.27,200.09C302.53,200.52 302.79,200.95 303.04,201.38C303.29,201.82 303.54,202.25 303.79,202.69C304.03,203.12 304.28,203.56 304.52,204.00C304.76,204.44 304.99,204.89 305.22,205.33C305.45,205.78 305.68,206.23 305.89,206.68C306.11,207.13 306.32,207.59 306.52,208.05C306.73,208.51 306.92,208.97 307.11,209.43C307.29,209.90 307.47,210.37 307.63,210.84C307.80,211.32 307.95,211.80 308.09,212.28C308.23,212.76 308.36,213.25 308.47,213.74C308.58,214.22 308.68,214.72 308.75,215.21C308.83,215.71 308.89,216.21 308.94,216.71C308.98,217.21 309.00,217.71 309.00,218.21C309.00,218.71 308.99,219.21 308.94,219.71C308.90,220.21 308.84,220.71 308.75,221.20C308.65,221.70 308.53,222.19 308.36,222.66C308.18,223.12 307.96,223.59 307.69,224.00C307.41,224.41 307.06,224.79 306.70,225.13C306.33,225.47 305.91,225.76 305.50,226.03C305.08,226.31 304.63,226.54 304.19,226.77C303.74,227.00 303.28,227.21 302.82,227.41C302.36,227.61 301.90,227.80 301.43,227.97C300.96,228.15 300.48,228.31 300.00,228.46C299.52,228.61 299.04,228.75 298.56,228.87C298.07,229.00 297.58,229.11 297.09,229.22C296.60,229.32 296.11,229.41 295.61,229.49C295.11,229.57 294.62,229.64 294.12,229.69C293.62,229.75 293.12,229.79 292.62,229.83C292.12,229.86 291.62,229.89 291.12,229.90C290.62,229.91 290.11,229.91 289.61,229.90C289.11,229.89 288.61,229.87 288.11,229.84C287.61,229.80 287.11,229.76 286.61,229.71C286.11,229.65 285.61,229.59 285.12,229.51C284.62,229.43 284.13,229.34 283.64,229.24C283.14,229.14 282.65,229.03 282.17,228.91Z" stroke="#0000b0" stroke-dasharray="3.6 5.488" stroke-dashoffset="0.34"/>
<path d="M274.96,216.57C274.46,216.50 273.96,216.41 273.47,216.31C272.98,216.20 272.49,216.08 272.01,215.95C271.52,215.82 271.04,215.67 270.57,215.51C270.09,215.35 269.62,215.18 269.15,215.00C268.68,214.82 268.22,214.62 267.76,214.42C267.29,214.22 266.84,214.01 266.39,213.79C265.93,213.57 265.49,213.34 265.04,213.11C264.60,212.88 264.15,212.64 263.72,212.39C263.28,212.15 262.84,211.89 262.41,211.64C261.98,211.38 261.55,211.12 261.12,210.86C260.69,210.60 260.27,210.33 259.84,210.06C259.42,209.79 259.00,209.52 258.58,209.24C258.15,208.97 257.74,208.69 257.32,208.41C256.90,208.13 256.48,207.85 256.06,207.57C255.65,207.29 255.23,207.01 254.82,206.73C254.40,206.44 253.98,206.16 253.57,205.88C253.15,205.60 252.74,205.32 252.32,205.04C251.90,204.76 251.48,204.48 251.07,204.20C250.65,203.92 250.23,203.65 249.80,203.37C249.38,203.10 248.96,202.83 248.53,202.56C248.11,202.29 247.68,202.03 247.26,201.76C246.83,201.50 246.40,201.23 245.97,200.97C245.55,200.70 245.12,200.44 244.70,200.17C244.27,199.90 243.85,199.63 243.43,199.36C243.00,199.08 242.58,198.81 242.17,198.52C241.75,198.24 241.34,197.95 240.94,197.66C240.53,197.36 240.13,197.06 239.73,196.76C239.32,196.45 238.93,196.15 238.53,195.84C238.14,195.53 237.74,195.21 237.35,194.90C236.96,194.59 236.57,194.27 236.17,193.96C235.78,193.65 235.39,193.33 234.99,193.02C234.60,192.71 234.20,192.40 233.81,192.09C233.41,191.79 233.01,191.48 232.60,191.18C232.20,190.88 231.80,190.58 231.39,190.29C230.99,189.99 230.58,189.69 230.17,189.40C229.76,189.11 229.35,188.81 228.95,188.52C228.54,188.23 228.13,187.94 227.72,187.65C227.31,187.36 226.90,187.06 226.49,186.77C226.08,186.48 225.67,186.19 225.27,185.89C224.86,185.60 224.45,185.30 224.05,185.00C223.65,184.70 223.24,184.40 222.84,184.10C222.44,183.80 222.04,183.49 221.64,183.18C221.25,182.88 220.85,182.56 220.46,182.25C220.07,181.93 219.68,181.61 219.30,181.29C218.92,180.96 218.54,180.63 218.16,180.30C217.78,179.97 217.41,179.63 217.04,179.29C216.68,178.95 216.31,178.60 215.95,178.25C215.59,177.90 215.23,177.54 214.88,177.19C214.53,176.83 214.18,176.47 213.83,176.11C213.48,175.75 213.14,175.38 212.79,175.01C212.45,174.64 212.11,174.27 211.77,173.90C211.43,173.53 211.10,173.16 210.76,172.78C210.43,172.41 210.09,172.03 209.76,171.66C209.43,171.28 209.10,170.90 208.77,170.52C208.44,170.14 208.11,169.77 207.78,169.39C207.45,169.01 207.12,168.63 206.79,168.25C206.46,167.87 206.13,167.49 205.79,167.11C205.46,166.74 205.13,166.36 204.80,165.98C204.46,165.61 204.13,165.23 203.80,164.85C203.47,164.48 203.13,164.10 202.80,163.72C202.47,163.34 202.15,162.96 201.82,162.58C201.50,162.19 201.18,161.81 200.86,161.41C200.55,161.02 200.24,160.63 199.94,160.23C199.64,159.82 199.34,159.42 199.05,159.00C198.77,158.59 198.49,158.17 198.23,157.74C197.97,157.31 197.71,156.88 197.47,156.44C197.24,155.99 197.01,155.54 196.81,155.08C196.60,154.63 196.41,154.16 196.24,153.69C196.08,153.21 195.93,152.73 195.80,152.25C195.68,151.76 195.57,151.27 195.49,150.77C195.42,150.28 195.36,149.77 195.33,149.27C195.30,148.77 195.29,148.27 195.31,147.77C195.33,147.26 195.38,146.76 195.46,146.27C195.54,145.77 195.65,145.28 195.79,144.80C195.94,144.32 196.12,143.84 196.34,143.39C196.56,142.94 196.82,142.50 197.12,142.11C197.42,141.71 197.77,141.33 198.15,141.01C198.52,140.68 198.95,140.40 199.39,140.15C199.82,139.91 200.29,139.71 200.75,139.53C201.22,139.34 201.70,139.19 202.19,139.05C202.67,138.91 203.16,138.80 203.65,138.68C204.14,138.57 204.63,138.47 205.12,138.36C205.61,138.26 206.11,138.17 206.60,138.07C207.09,137.98 207.59,137.89 208.09,137.81C208.58,137.73 209.08,137.66 209.58,137.59C210.07,137.53 210.57,137.47 211.07,137.42C211.57,137.38 212.08,137.34 212.58,137.31C213.08,137.29 213.58,137.27 214.08,137.27C214.59,137.26 215.09,137.27 215.59,137.29C216.09,137.31 216.60,137.34 217.10,137.38C217.60,137.41 218.10,137.46 218.60,137.52C219.10,137.58 219.59,137.65 220.09,137.73C220.59,137.80 221.08,137.89 221.58,137.99C222.07,138.08 222.56,138.19 223.05,138.30C223.54,138.41 224.03,138.54 224.51,138.67C225.00,138.80 225.48,138.93 225.96,139.08C226.44,139.23 226.92,139.38 227.40,139.54C227.87,139.70 228.35,139.87 228.82,140.04C229.29,140.22 229.76,140.40 230.22,140.59C230.69,140.78 231.15,140.98 231.61,141.18C232.07,141.38 232.53,141.59 232.98,141.81C233.44,142.02 233.89,142.25 234.33,142.47C234.78,142.70 235.23,142.94 235.67,143.18C236.11,143.41 236.55,143.66 236.99,143.91C237.42,144.16 237.86,144.41 238.29,144.67C238.72,144.92 239.15,145.18 239.58,145.44C240.01,145.71 240.44,145.97 240.86,146.24C241.29,146.50 241.71,146.77 242.14,147.04C242.56,147.31 242.98,147.58 243.41,147.86C243.83,148.13 244.25,148.40 244.68,148.67C245.10,148.94 245.52,149.21 245.95,149.48C246.37,149.75 246.79,150.02 247.22,150.29C247.65,150.55 248.07,150.82 248.50,151.08C248.93,151.35 249.36,151.61 249.78,151.87C250.21,152.14 250.64,152.40 251.06,152.67C251.49,152.94 251.92,153.20 252.34,153.47C252.76,153.74 253.19,154.01 253.61,154.29C254.03,154.57 254.44,154.85 254.86,155.13C255.27,155.41 255.69,155.70 256.09,156.00C256.50,156.29 256.91,156.59 257.30,156.89C257.70,157.20 258.10,157.51 258.49,157.83C258.88,158.15 259.26,158.47 259.64,158.80C260.01,159.14 260.38,159.47 260.76,159.81C261.13,160.15 261.49,160.50 261.86,160.84C262.23,161.18 262.59,161.53 262.96,161.87C263.33,162.21 263.70,162.55 264.07,162.89C264.44,163.23 264.82,163.56 265.19,163.90C265.57,164.23 265.95,164.56 266.32,164.89C266.70,165.23 267.08,165.56 267.45,165.89C267.83,166.22 268.21,166.56 268.58,166.89C268.95,167.23 269.32,167.57 269.69,167.91C270.06,168.26 270.42,168.60 270.78,168.95C271.14,169.30 271.50,169.66 271.85,170.01C272.21,170.37 272.56,170.73 272.90,171.09C273.25,171.46 273.59,171.83 273.93,172.20C274.27,172.57 274.61,172.94 274.94,173.32C275.28,173.69 275.61,174.07 275.93,174.45C276.26,174.83 276.59,175.22 276.91,175.60C277.23,175.99 277.55,176.38 277.87,176.77C278.18,177.16 278.50,177.55 278.81,177.94C279.12,178.34 279.43,178.73 279.74,179.13C280.04,179.53 280.35,179.93 280.65,180.33C280.96,180.73 281.26,181.13 281.56,181.53C281.86,181.94 282.15,182.34 282.45,182.75C282.75,183.15 283.04,183.56 283.33,183.97C283.63,184.38 283.92,184.79 284.21,185.20C284.50,185.61 284.79,186.02 285.08,186.43C285.38,186.84 285.67,187.25 285.96,187.65C286.25,188.06 286.54,188.47 286.84,188.88C287.13,189.29 287.43,189.69 287.72,190.10C288.02,190.50 288.33,190.90 288.63,191.31C288.93,191.71 289.23,192.11 289.52,192.52C289.82,192.93 290.11,193.34 290.38,193.76C290.66,194.18 290.92,194.60 291.17,195.04C291.41,195.48 291.63,195.94 291.83,196.40C292.03,196.86 292.20,197.33 292.35,197.81C292.51,198.29 292.64,198.77 292.75,199.26C292.86,199.75 292.94,200.25 293.01,200.75C293.08,201.24 293.13,201.75 293.17,202.25C293.20,202.75 293.22,203.25 293.22,203.75C293.22,204.26 293.20,204.76 293.15,205.26C293.11,205.76 293.05,206.26 292.95,206.75C292.86,207.25 292.74,207.74 292.59,208.21C292.44,208.69 292.25,209.17 292.03,209.61C291.81,210.06 291.55,210.50 291.27,210.91C290.98,211.32 290.66,211.71 290.31,212.08C289.97,212.44 289.60,212.78 289.21,213.10C288.82,213.42 288.41,213.72 287.99,213.99C287.57,214.26 287.13,214.51 286.69,214.74C286.24,214.97 285.78,215.18 285.32,215.37C284.85,215.56 284.38,215.73 283.90,215.88C283.42,216.03 282.93,216.16 282.44,216.28C281.96,216.39 281.46,216.49 280.96,216.56C280.47,216.64 279.97,216.70 279.47,216.73C278.97,216.77 278.46,216.79 277.96,216.79C277.46,216.79 276.95,216.77 276.45,216.74C275.95,216.70 275.45,216.64 274.96,216.57Z" stroke="#0000b0" stroke-dasharray="9.0 5.504" stroke-dashoffset="0.33"/>
<path d="M219.73,158.22C220.07,157.88 220.55,157.62 221.01,157.45C221.47,157.28 221.99,157.21 222.48,157.18C222.98,157.15 223.49,157.19 223.98,157.25C224.48,157.31 224.97,157.43 225.46,157.55C225.94,157.68 226.42,157.84 226.90,157.99C227.37,158.15 227.85,158.32 228.32,158.49C228.79,158.66 229.26,158.83 229.73,159.00C230.20,159.17 230.67,159.35 231.14,159.53C231.61,159.71 232.08,159.89 232.55,160.07C233.01,160.25 233.48,160.44 233.95,160.63C234.41,160.81 234.88,161.00 235.34,161.20C235.80,161.39 236.26,161.59 236.72,161.79C237.18,161.99 237.64,162.19 238.10,162.40C238.56,162.60 239.01,162.81 239.47,163.03C239.92,163.24 240.37,163.46 240.82,163.68C241.27,163.90 241.72,164.13 242.17,164.36C242.61,164.59 243.05,164.82 243.49,165.06C243.94,165.31 244.37,165.55 244.81,165.80C245.24,166.05 245.67,166.31 246.10,166.57C246.53,166.83 246.95,167.10 247.38,167.37C247.80,167.64 248.21,167.92 248.63,168.21C249.04,168.49 249.45,168.79 249.85,169.09C250.25,169.38 250.65,169.69 251.04,170.00C251.44,170.31 251.82,170.63 252.20,170.96C252.58,171.29 252.96,171.62 253.33,171.96C253.70,172.30 254.06,172.65 254.41,173.00C254.77,173.36 255.12,173.72 255.46,174.08C255.80,174.45 256.14,174.82 256.47,175.20C256.80,175.58 257.12,175.96 257.43,176.36C257.75,176.75 258.06,177.14 258.36,177.55C258.66,177.95 258.95,178.35 259.23,178.77C259.52,179.18 259.80,179.60 260.07,180.02C260.34,180.44 260.60,180.87 260.86,181.30C261.11,181.74 261.36,182.17 261.60,182.61C261.84,183.05 262.07,183.50 262.29,183.95C262.51,184.40 262.74,184.85 262.91,185.32C263.09,185.79 263.26,186.27 263.34,186.76C263.43,187.25 263.46,187.76 263.42,188.26C263.38,188.75 263.25,189.25 263.09,189.72C262.93,190.19 262.70,190.65 262.45,191.08C262.19,191.51 261.90,191.93 261.56,192.29C261.22,192.66 260.83,193.00 260.42,193.27C260.01,193.55 259.55,193.78 259.08,193.95C258.62,194.13 258.12,194.24 257.63,194.32C257.13,194.40 256.63,194.42 256.13,194.42C255.63,194.42 255.12,194.37 254.63,194.31C254.13,194.25 253.64,194.15 253.15,194.04C252.66,193.93 252.17,193.80 251.69,193.65C251.21,193.51 250.74,193.34 250.27,193.17C249.79,193.00 249.33,192.81 248.87,192.62C248.40,192.42 247.95,192.22 247.49,192.00C247.04,191.79 246.59,191.57 246.14,191.33C245.70,191.10 245.26,190.86 244.82,190.61C244.39,190.36 243.96,190.10 243.53,189.84C243.11,189.57 242.69,189.30 242.27,189.02C241.85,188.74 241.44,188.45 241.03,188.16C240.63,187.87 240.22,187.57 239.82,187.26C239.43,186.96 239.03,186.65 238.64,186.34C238.25,186.02 237.86,185.71 237.47,185.38C237.09,185.06 236.71,184.74 236.33,184.41C235.95,184.08 235.57,183.75 235.20,183.42C234.82,183.08 234.45,182.75 234.08,182.41C233.70,182.08 233.33,181.74 232.96,181.40C232.59,181.06 232.22,180.72 231.85,180.38C231.49,180.04 231.12,179.70 230.75,179.36C230.38,179.02 230.01,178.68 229.64,178.34C229.27,178.00 228.90,177.66 228.54,177.31C228.18,176.97 227.81,176.62 227.46,176.27C227.10,175.92 226.74,175.57 226.39,175.21C226.04,174.85 225.69,174.49 225.35,174.12C225.01,173.75 224.68,173.38 224.35,173.00C224.02,172.61 223.70,172.23 223.39,171.84C223.08,171.44 222.78,171.04 222.49,170.63C222.19,170.23 221.91,169.81 221.64,169.39C221.37,168.96 221.11,168.53 220.87,168.09C220.63,167.66 220.40,167.21 220.18,166.76C219.97,166.30 219.76,165.84 219.58,165.38C219.40,164.91 219.23,164.44 219.09,163.95C218.96,163.47 218.84,162.98 218.77,162.49C218.71,161.99 218.67,161.48 218.70,160.98C218.74,160.49 218.80,159.97 218.98,159.51C219.15,159.05 219.39,158.56 219.73,158.22Z" stroke="#0000b0"/>
</g>
<path d="M85.50,350.7v-3.4 M85.50,10.3v3.4 M106.81,350.7v-3.4 M106.81,10.3v3.4 M128.12,350.7v-3.4 M128.12,10.3v3.4 M149.44,350.7v-5.4 M149.44,10.3v5.4 M170.75,350.7v-3.4 M170.75,10.3v3.4 M192.06,350.7v-3.4 M192.06,10.3v3.4 M213.38,350.7v-3.4 M213.38,10.3v3.4 M234.69,350.7v-3.4 M234.69,10.3v3.4 M256.00,350.7v-5.4 M256.00,10.3v5.4 M277.31,350.7v-3.4 M277.31,10.3v3.4 M298.62,350.7v-3.4 M298.62,10.3v3.4 M319.94,350.7v-3.4 M319.94,10.3v3.4 M341.25,350.7v-3.4 M341.25,10.3v3.4 M362.56,350.7v-5.4 M362.56,10.3v5.4 M383.88,350.7v-3.4 M383.88,10.3v3.4 M405.19,350.7v-3.4 M405.19,10.3v3.4 M426.50,350.7v-3.4 M426.50,10.3v3.4 M85.5,10.30h5.4 M426.5,10.30h-5.4 M85.5,27.32h3.4 M426.5,27.32h-3.4 M85.5,44.34h3.4 M426.5,44.34h-3.4 M85.5,61.36h3.4 M426.5,61.36h-3.4 M85.5,78.38h3.4 M426.5,78.38h-3.4 M85.5,95.40h5.4 M426.5,95.40h-5.4 M85.5,112.42h3.4 M426.5,112.42h-3.4 M85.5,129.44h3.4 M426.5,129.44h-3.4 M85.5,146.46h3.4 M426.5,146.46h-3.4 M85.5,163.48h3.4 M426.5,163.48h-3.4 M85.5,180.50h5.4 M426.5,180.50h-5.4 M85.5,197.52h3.4 M426.5,197.52h-3.4 M85.5,214.54h3.4 M426.5,214.54h-3.4 M85.5,231.56h3.4 M426.5,231.56h-3.4 M85.5,248.58h3.4 M426.5,248.58h-3.4 M85.5,265.60h5.4 M426.5,265.60h-5.4 M85.5,282.62h3.4 M426.5,282.62h-3.4 M85.5,299.64h3.4 M426.5,299.64h-3.4 M85.5,316.66h3.4 M426.5,316.66h-3.4 M85.5,333.68h3.4 M426.5,333.68h-3.4 M85.5,350.70h5.4 M426.5,350.70h-5.4" stroke="#6e6e6e" stroke-width="1" fill="none"/>
<rect x="85.5" y="10.3" width="341.0" height="340.4" fill="none" stroke="#6e6e6e" stroke-width="1"/>
<g font-family="Liberation Sans, sans-serif">
<text x="44.5" y="16.5" textLength="34.8" lengthAdjust="spacingAndGlyphs" font-size="16" fill="#1a1a1a">0.02</text>
<text x="44.5" y="101.6" textLength="34.8" lengthAdjust="spacingAndGlyphs" font-size="16" fill="#1a1a1a">0.01</text>
<text x="44.5" y="186.7" textLength="34.8" lengthAdjust="spacingAndGlyphs" font-size="16" fill="#1a1a1a">0.00</text>
<text x="44.5" y="271.9" textLength="34.8" lengthAdjust="spacingAndGlyphs" font-size="16" fill="#1a1a1a">0.01</text><rect x="34.4" y="266.7" width="8.4" height="1.2" fill="#1a1a1a"/>
<text x="44.5" y="357" textLength="34.8" lengthAdjust="spacingAndGlyphs" font-size="16" fill="#1a1a1a">0.02</text><rect x="34.4" y="351.8" width="8.4" height="1.2" fill="#1a1a1a"/>
<text x="136.7" y="372.8" textLength="34.8" lengthAdjust="spacingAndGlyphs" font-size="16" fill="#1a1a1a">0.05</text><rect x="126.6" y="367.6" width="8.4" height="1.2" fill="#1a1a1a"/>
<text x="238.89999999999998" y="372.8" textLength="34.8" lengthAdjust="spacingAndGlyphs" font-size="16" fill="#1a1a1a">0.00</text>
<text x="344.8" y="372.8" textLength="34.8" lengthAdjust="spacingAndGlyphs" font-size="16" fill="#1a1a1a">0.05</text>
</g>
<g font-family="Liberation Serif, serif" font-size="16.6">
<text fill="#800000" y="57.6"><tspan x="312">n=</tspan><tspan x="338.5">2</tspan><tspan x="350.8">000</tspan></text>
<text fill="#0000b0" y="83.7"><tspan x="312">n=</tspan><tspan x="329.4">11</tspan><tspan x="350.8">000</tspan></text>
</g>
<g fill="#1a1a1a">
<text x="247.1" y="399.9" font-family="Liberation Serif, serif" font-size="16.2" textLength="10.3" lengthAdjust="spacingAndGlyphs">Δ</text>
<text x="257.9" y="399.9" font-family="Liberation Serif, serif" font-style="italic" font-size="17">ν</text>
<line x1="266.9" y1="401.6" x2="271.7" y2="386.5" stroke="#1a1a1a" stroke-width="1.5"/>
<text x="273.3" y="399.9" font-family="Liberation Serif, serif" font-style="italic" font-size="17">ν</text>
</g>
<g transform="translate(27.1,194.6) rotate(-90)" font-family="Liberation Sans, sans-serif" fill="#1a1a1a">
<text transform="translate(0.60,0.00) scale(0.672,0.765)" font-size="20">Δ</text>
<text transform="translate(11.58,0.00) scale(0.706,0.824)" font-size="20">n</text>
<text transform="translate(21.64,3.45) scale(0.437,0.596)" font-size="20">s</text>
<line x1="32.5" y1="3.4" x2="37.7" y2="-11.5" stroke="#1a1a1a" stroke-width="1.25"/>
<text transform="translate(41.58,0.00) scale(0.706,0.824)" font-size="20">n</text>
<text transform="translate(51.34,3.65) scale(0.437,0.596)" font-size="20">s</text>
</g>

</svg>
</body></html>
